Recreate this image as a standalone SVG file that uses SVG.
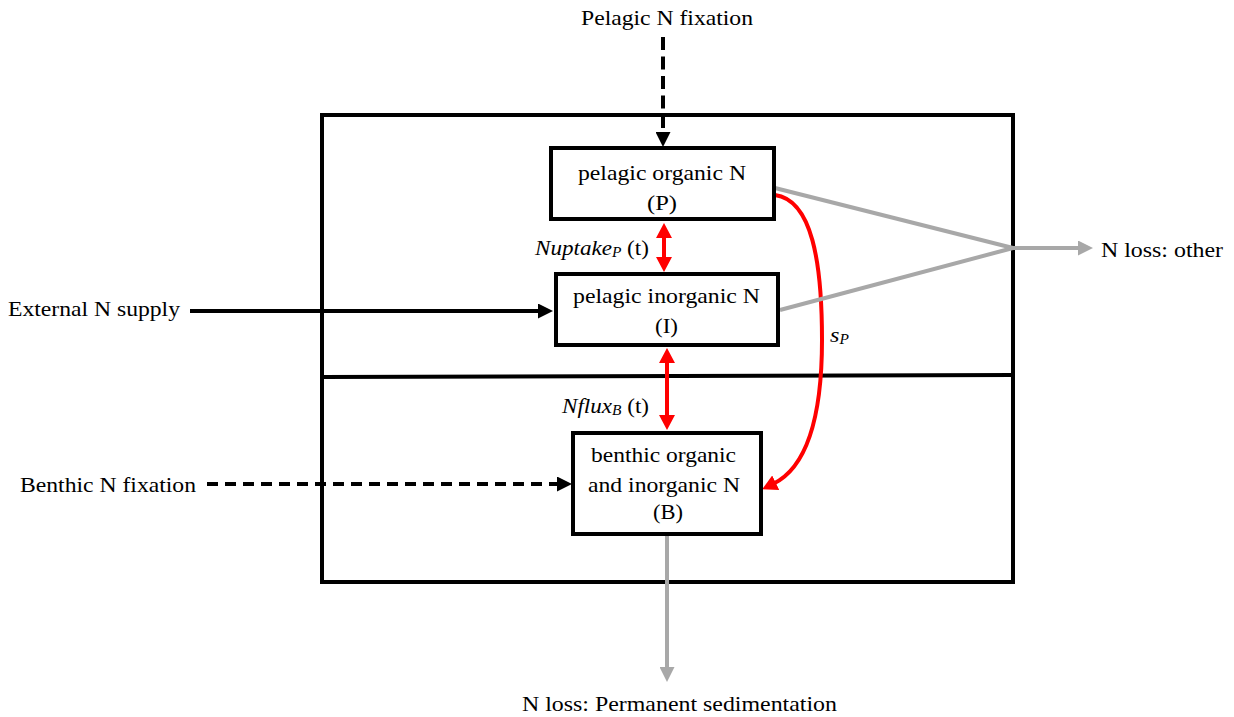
<svg xmlns="http://www.w3.org/2000/svg" width="1234" height="717" viewBox="0 0 1234 717">
<style>
text{font-family:"Liberation Serif","Times New Roman",serif;font-size:21px;fill:#000}
.box{fill:#fff;stroke:#000;stroke-width:4}
.frame{fill:none;stroke:#000;stroke-width:4}
.blk{stroke:#000;stroke-width:4;fill:none}
.red{stroke:#ff0000;stroke-width:4;fill:none}
.gry{stroke:#a8a8a8;stroke-width:4;fill:none}
.it{font-style:italic}
</style>
<defs>
<marker id="ab" markerUnits="userSpaceOnUse" markerWidth="16" markerHeight="15" refX="3" refY="7.5" orient="auto"><path d="M0,0 L15,7.5 L0,15 z" fill="#000"/></marker>
<marker id="ar" markerUnits="userSpaceOnUse" markerWidth="16" markerHeight="16" refX="3" refY="8" orient="auto-start-reverse"><path d="M0,0 L15,8 L0,16 z" fill="#ff0000"/></marker>
<marker id="ag" markerUnits="userSpaceOnUse" markerWidth="16" markerHeight="15" refX="3" refY="7.5" orient="auto"><path d="M0,0 L15,7.5 L0,15 z" fill="#a8a8a8"/></marker>
</defs>

<g id="frame">
<rect class="frame" x="322" y="115" width="691" height="467"/>
<line class="frame" x1="322" y1="377" x2="1013" y2="375"/>
</g>

<g id="connectors">
<line class="blk" x1="663" y1="37" x2="663" y2="135" stroke-dasharray="13 6.5" marker-end="url(#ab)"/>
<line class="blk" x1="190" y1="311" x2="541" y2="311" marker-end="url(#ab)"/>
<line class="blk" x1="207" y1="484" x2="560" y2="484" stroke-dasharray="11 7" marker-end="url(#ab)"/>
<line class="red" x1="664" y1="235" x2="664" y2="260" marker-start="url(#ar)" marker-end="url(#ar)"/>
<line class="red" x1="667" y1="360" x2="667" y2="418" marker-start="url(#ar)" marker-end="url(#ar)"/>
<path class="red" d="M775,195 C812,200 822,262 822,340 C822,420 806,468 773,484" marker-end="url(#ar)"/>
<line class="gry" x1="775" y1="188" x2="1013" y2="248"/>
<line class="gry" x1="780" y1="310" x2="1013" y2="248"/>
<line class="gry" x1="1013" y1="248" x2="1081" y2="248" marker-end="url(#ag)"/>
<line class="gry" x1="667" y1="536" x2="667" y2="670" marker-end="url(#ag)"/>
</g>

<g id="node-P">
<rect class="box" x="551" y="148" width="223" height="71"/>
<text x="578" y="180" textLength="168" lengthAdjust="spacingAndGlyphs">pelagic organic N</text>
<text x="647" y="210" textLength="30" lengthAdjust="spacingAndGlyphs">(P)</text>
</g>

<g id="node-I">
<rect class="box" x="556" y="274" width="222" height="71"/>
<text x="573" y="303" textLength="187" lengthAdjust="spacingAndGlyphs">pelagic inorganic N</text>
<text x="655" y="333" textLength="23" lengthAdjust="spacingAndGlyphs">(I)</text>
</g>

<g id="node-B">
<rect class="box" x="573" y="433" width="188" height="101"/>
<text x="591" y="462" textLength="145" lengthAdjust="spacingAndGlyphs">benthic organic</text>
<text x="588" y="492" textLength="152" lengthAdjust="spacingAndGlyphs">and inorganic N</text>
<text x="653" y="519" textLength="30" lengthAdjust="spacingAndGlyphs">(B)</text>
</g>

<g id="labels">
<text x="581" y="25" textLength="172" lengthAdjust="spacingAndGlyphs">Pelagic N fixation</text>
<text x="8" y="316" textLength="172" lengthAdjust="spacingAndGlyphs">External N supply</text>
<text x="20" y="492" textLength="176" lengthAdjust="spacingAndGlyphs">Benthic N fixation</text>
<text x="1101" y="257" textLength="122" lengthAdjust="spacingAndGlyphs">N loss: other</text>
<text x="522" y="711" textLength="315" lengthAdjust="spacingAndGlyphs">N loss: Permanent sedimentation</text>
<g transform="translate(535,255) scale(1.1,1)"><text x="0" y="0"><tspan class="it">Nuptake</tspan><tspan class="it" font-size="14" dy="2">P</tspan><tspan dy="-2"> (t)</tspan></text></g>
<g transform="translate(562,413) scale(1.1,1)"><text x="0" y="0"><tspan class="it">Nflux</tspan><tspan class="it" font-size="14" dy="2">B</tspan><tspan dy="-2"> (t)</tspan></text></g>
<g transform="translate(830,342) scale(1.1,1)"><text x="0" y="0"><tspan class="it" font-size="22">s</tspan><tspan class="it" font-size="14" dy="2">P</tspan></text></g>
</g>
</svg>
